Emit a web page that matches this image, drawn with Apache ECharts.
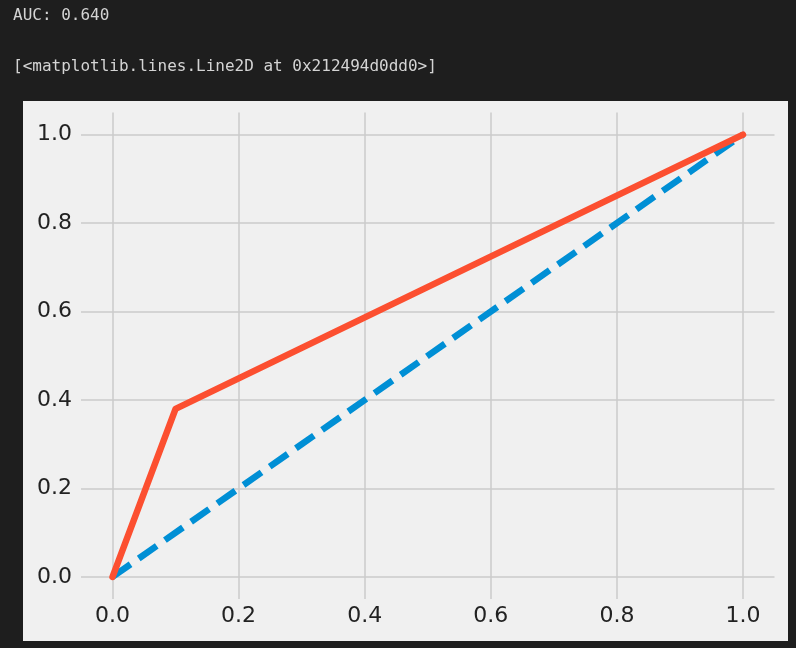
<!DOCTYPE html>
<html>
<head>
<meta charset="utf-8">
<script src="https://cdn.jsdelivr.net/npm/echarts@6/dist/echarts.min.js"></script>
<style>
  html, body { margin: 0; padding: 0; background: #1e1e1e; }
  #chart { width: 796px; height: 648px; }
</style>
</head>
<body>
<div id="chart"></div>
<script>
// ROC curve data
var fpr = [0, 0.1, 1];
var tpr = [0, 0.38, 1];
var chanceX = [0, 1];
var chanceY = [0, 1];
var tickValues = [0, 0.2, 0.4, 0.6, 0.8, 1.0];
var outputLines = ['AUC: 0.640', '[<matplotlib.lines.Line2D at 0x212494d0dd0>]'];

var echart = echarts.init(document.getElementById('chart'));

function pairs(xs, ys) {
    return xs.map(function (x, i) { return [x, ys[i]]; });
}

var monoText = {
    color: '#d4d4d4',
    fontFamily: 'DejaVu Sans Mono',
    fontSize: 16,
    fontWeight: 'normal'
};

var option = {
    backgroundColor: '#1e1e1e',
    animation: false,
    title: [
        { text: outputLines[0], left: 13, top: 8, padding: 0, textStyle: monoText },
        { text: outputLines[1], left: 13, top: 59, padding: 0, textStyle: monoText }
    ],
    graphic: [{
        type: 'rect',
        z: -10,
        shape: { x: 23, y: 101, width: 765, height: 540 },
        style: { fill: '#f0f0f0' }
    }],
    grid: {
        left: 81,
        right: 21.5,
        top: 112.5,
        bottom: 49
    },
    xAxis: {
        type: 'value',
        min: -0.05,
        max: 1.05,
        axisLine: { show: false },
        axisTick: { show: false, customValues: tickValues },
        splitLine: {
            show: true,
            lineStyle: { color: '#cbcbcb', width: 1.5 }
        },
        axisLabel: {
            customValues: tickValues,
            margin: 6,
            color: '#222222',
            fontFamily: 'DejaVu Sans',
            fontSize: 22,
            formatter: function (v) { return v.toFixed(1); }
        }
    },
    yAxis: {
        type: 'value',
        min: -0.05,
        max: 1.05,
        axisLine: { show: false },
        axisTick: { show: false, customValues: tickValues },
        splitLine: {
            show: true,
            lineStyle: { color: '#cbcbcb', width: 1.5 }
        },
        axisLabel: {
            customValues: tickValues,
            margin: 9,
            color: '#222222',
            fontFamily: 'DejaVu Sans',
            fontSize: 22,
            formatter: function (v) { return v.toFixed(1); }
        }
    },
    series: [
        {
            type: 'line',
            symbol: 'none',
            data: pairs(chanceX, chanceY),
            lineStyle: {
                color: '#008fd5',
                width: 6.5,
                type: [22, 10],
                cap: 'butt'
            }
        },
        {
            type: 'line',
            symbol: 'none',
            data: pairs(fpr, tpr),
            lineStyle: {
                color: '#fc4f30',
                width: 6.5,
                cap: 'round',
                join: 'round'
            }
        }
    ]
};
echart.setOption(option);
</script>
</body>
</html>
